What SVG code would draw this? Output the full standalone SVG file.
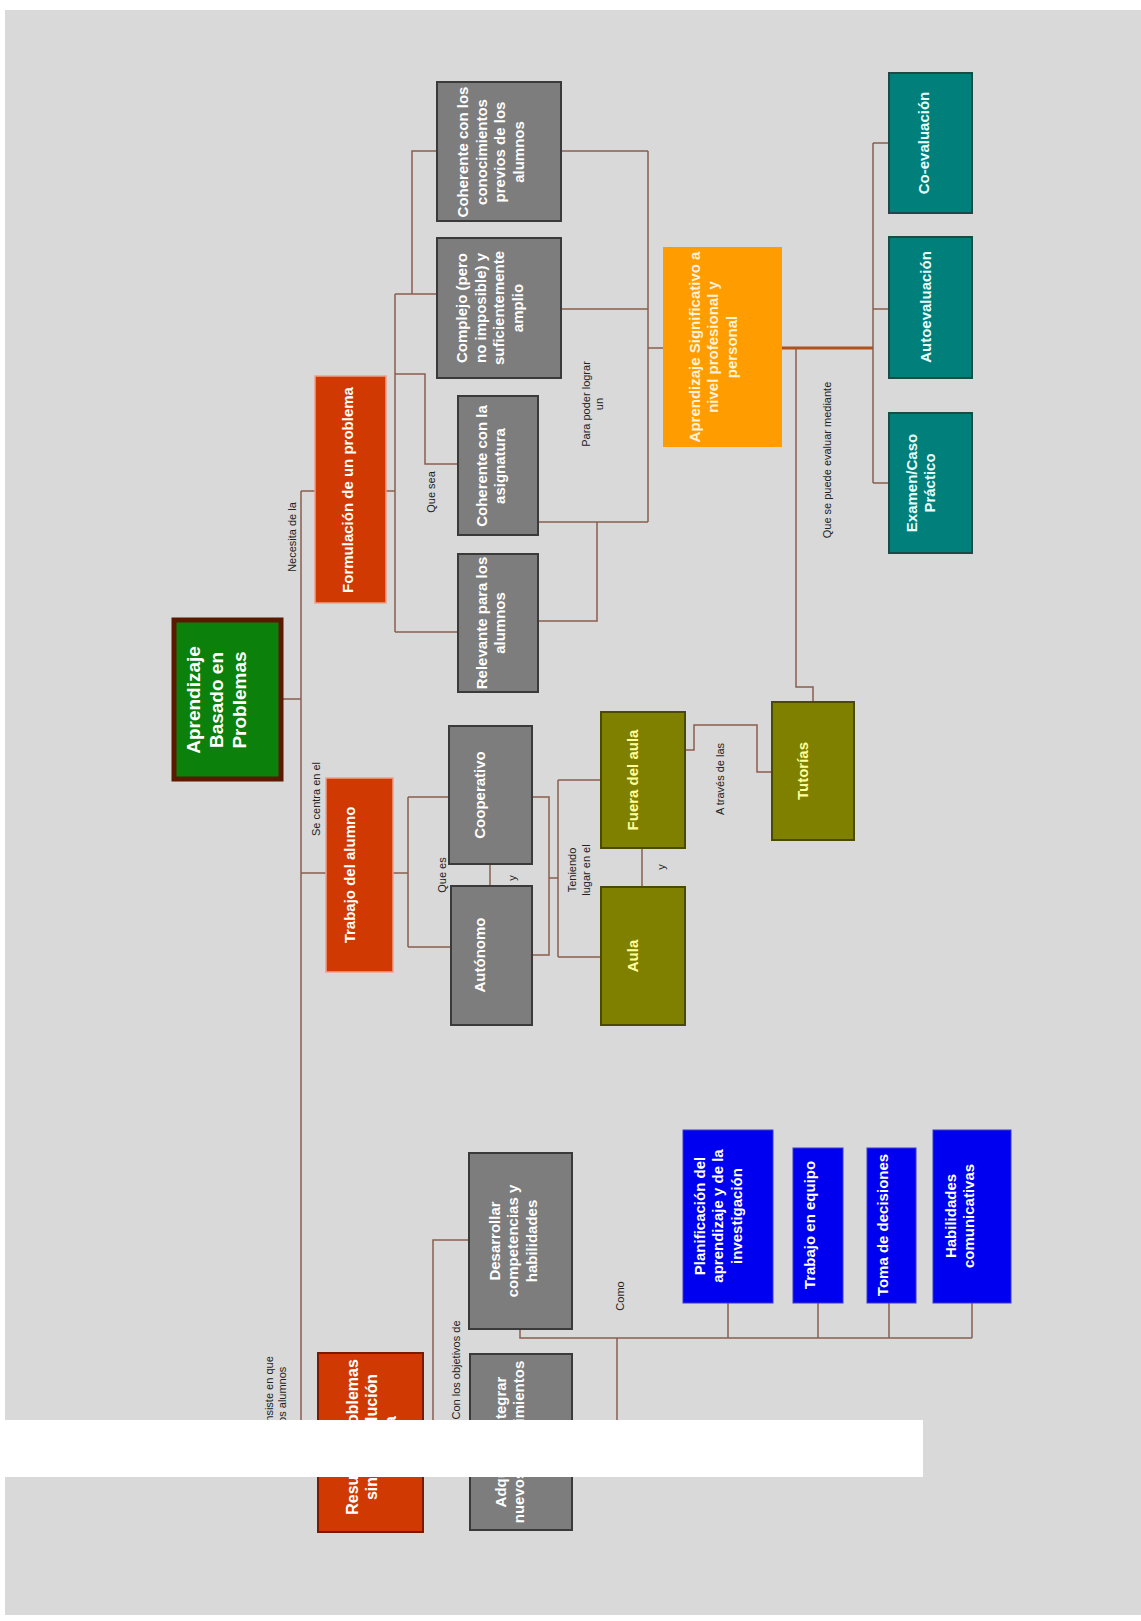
<svg xmlns="http://www.w3.org/2000/svg" width="1141" height="1621" viewBox="0 0 1141 1621">
<style>
.bx{font-family:"Liberation Sans",Arial,sans-serif;font-weight:bold;font-size:15px;text-anchor:middle}
.w{fill:#ffffff}
.y{fill:#ffff99}
.o{fill:#fff2d6}
.c{fill:#e6ffff}
.lb{font-family:"Liberation Sans",Arial,sans-serif;font-size:11px;fill:#222;text-anchor:middle}
.red{fill:#d03a02;stroke:#eea08c;stroke-width:1.5}
.gray{fill:#7d7d7d;stroke:#3a3a3a;stroke-width:2}
.teal{fill:#007f7b;stroke:#1c4a46;stroke-width:2}
.olive{fill:#808000;stroke:#4a4a00;stroke-width:2}
.blue{fill:#0000f0;stroke:#3a3ad0;stroke-width:1}
.orange{fill:#ff9c00}
#connectors path{fill:none;stroke:#8a5e4e;stroke-width:1.5}
#connectors path.thick{stroke:#b0501a;stroke-width:3}
</style>
<rect x="0" y="0" width="1141" height="1621" fill="#ffffff"/>
<rect x="5" y="10" width="1136" height="1605" fill="#d9d9d9"/>

<g id="connectors">
<path d="M283 699 H301"/>
<path d="M301 491 V1448 H318"/>
<path d="M301 491 H315"/>
<path d="M301 873 H326"/>
<path d="M386 491 H395"/>
<path d="M395 294 V632"/>
<path d="M395 294 H437"/>
<path d="M412 294 V151 H437"/>
<path d="M395 374 H425 V464 H458"/>
<path d="M395 632 H458"/>
<path d="M561 151 H648"/>
<path d="M561 309 H648"/>
<path d="M648 151 V522"/>
<path d="M538 522 H648"/>
<path d="M538 621 H597 V522"/>
<path d="M648 348 H663"/>
<path class="thick" d="M782 348 H873"/>
<path d="M873 143 V483"/>
<path d="M873 143 H889"/>
<path d="M873 309 H889"/>
<path d="M873 483 H889"/>
<path d="M796 348 V687 H813 V703"/>
<path d="M393 873 H408"/>
<path d="M408 797 V947"/>
<path d="M408 797 H449"/>
<path d="M408 947 H451"/>
<path d="M490 864 V886"/>
<path d="M532 797 H549 V955 H532"/>
<path d="M549 878 H558"/>
<path d="M558 780 V957"/>
<path d="M558 780 H601"/>
<path d="M558 957 H601"/>
<path d="M642 848 V887"/>
<path d="M685 750 H694 V725 H757 V772 H772"/>
<path d="M520 1329 V1338 H972"/>
<path d="M728 1303 V1338"/>
<path d="M818 1303 V1338"/>
<path d="M889 1303 V1338"/>
<path d="M972 1303 V1338"/>
<path d="M617 1338 V1448 H572"/>
<path d="M469 1240 H433 V1450"/>
<path d="M423 1450 H470"/>
</g>

<g id="n-main">
<rect x="174" y="620" width="107" height="159" fill="#0b800b" stroke="#5a1a00" stroke-width="5"/>
<text class="bx w" style="font-size:19px" transform="translate(217,700) rotate(-90)"><tspan x="0" y="-17.3">Aprendizaje</tspan><tspan x="0" y="5.7">Basado en</tspan><tspan x="0" y="28.7">Problemas</tspan></text>
</g>

<g id="n-formulacion">
<rect class="red" x="315" y="376" width="71" height="227"/>
<text class="bx w" transform="translate(348,490) rotate(-90)"><tspan x="0" y="5">Formulación de un problema</tspan></text>
</g>

<g id="n-trabajo">
<rect class="red" x="326" y="778" width="67" height="194"/>
<text class="bx w" transform="translate(350,875) rotate(-90)"><tspan x="0" y="5">Trabajo del alumno</tspan></text>
</g>

<g id="n-resuelve">
<rect x="318" y="1353" width="105" height="179" fill="#d03a02" stroke="#7a1a00" stroke-width="2"/>
<text class="bx w" style="font-size:16px" transform="translate(372,1437) rotate(-90)"><tspan x="0" y="-13.7">Resuelve problemas</tspan><tspan x="0" y="5.3">sin una solución</tspan><tspan x="0" y="24.3">única</tspan></text>
</g>

<g id="n-coherente-previos">
<rect class="gray" x="437" y="82" width="124" height="139"/>
<text class="bx w" transform="translate(491,152) rotate(-90)"><tspan x="0" y="-22.75">Coherente con los</tspan><tspan x="0" y="-4.25">conocimientos</tspan><tspan x="0" y="14.25">previos de los</tspan><tspan x="0" y="32.75">alumnos</tspan></text>
</g>

<g id="n-complejo">
<rect class="gray" x="437" y="238" width="124" height="140"/>
<text class="bx w" transform="translate(490,308) rotate(-90)"><tspan x="0" y="-22.75">Complejo  (pero</tspan><tspan x="0" y="-4.25">no imposible) y</tspan><tspan x="0" y="14.25">suficientemente</tspan><tspan x="0" y="32.75">amplio</tspan></text>
</g>

<g id="n-coherente-asig">
<rect class="gray" x="458" y="396" width="80" height="139"/>
<text class="bx w" transform="translate(491,466) rotate(-90)"><tspan x="0" y="-4.25">Coherente con la</tspan><tspan x="0" y="14.25">asignatura</tspan></text>
</g>

<g id="n-relevante">
<rect class="gray" x="458" y="554" width="80" height="138"/>
<text class="bx w" transform="translate(491,623) rotate(-90)"><tspan x="0" y="-4.25">Relevante para los</tspan><tspan x="0" y="14.25">alumnos</tspan></text>
</g>

<g id="n-cooperativo">
<rect class="gray" x="449" y="726" width="83" height="138"/>
<text class="bx w" transform="translate(480,795) rotate(-90)"><tspan x="0" y="5">Cooperativo</tspan></text>
</g>

<g id="n-autonomo">
<rect class="gray" x="451" y="886" width="81" height="139"/>
<text class="bx w" transform="translate(480,955) rotate(-90)"><tspan x="0" y="5">Autónomo</tspan></text>
</g>

<g id="n-fuera">
<rect class="olive" x="601" y="712" width="84" height="136"/>
<text class="bx y" transform="translate(633,780) rotate(-90)"><tspan x="0" y="5">Fuera del aula</tspan></text>
</g>

<g id="n-aula">
<rect class="olive" x="601" y="887" width="84" height="138"/>
<text class="bx y" transform="translate(633,956) rotate(-90)"><tspan x="0" y="5">Aula</tspan></text>
</g>

<g id="n-tutorias">
<rect class="olive" x="772" y="702" width="82" height="138"/>
<text class="bx y" transform="translate(803,771) rotate(-90)"><tspan x="0" y="5">Tutorías</tspan></text>
</g>

<g id="n-significativo">
<rect class="orange" x="663" y="247" width="119" height="200"/>
<text class="bx o" transform="translate(713,347) rotate(-90)"><tspan x="0" y="-13.5">Aprendizaje Significativo a</tspan><tspan x="0" y="5">nivel profesional y</tspan><tspan x="0" y="23.5">personal</tspan></text>
</g>

<g id="n-coevaluacion">
<rect class="teal" x="889" y="73" width="83" height="140"/>
<text class="bx c" transform="translate(924,143) rotate(-90)"><tspan x="0" y="5">Co-evaluación</tspan></text>
</g>

<g id="n-autoevaluacion">
<rect class="teal" x="889" y="237" width="83" height="141"/>
<text class="bx c" transform="translate(926,307) rotate(-90)"><tspan x="0" y="5">Autoevaluación</tspan></text>
</g>

<g id="n-examen">
<rect class="teal" x="889" y="413" width="83" height="140"/>
<text class="bx c" transform="translate(921,483) rotate(-90)"><tspan x="0" y="-4.25">Examen/Caso</tspan><tspan x="0" y="14.25">Práctico</tspan></text>
</g>

<g id="n-desarrollar">
<rect class="gray" x="469" y="1153" width="103" height="176"/>
<text class="bx w" transform="translate(513,1241) rotate(-90)"><tspan x="0" y="-13.5">Desarrollar</tspan><tspan x="0" y="5">competencias y</tspan><tspan x="0" y="23.5">habilidades</tspan></text>
</g>

<g id="n-integrar">
<rect class="gray" x="470" y="1354" width="102" height="176"/>
<text class="bx w" transform="translate(510,1442) rotate(-90)"><tspan x="0" y="-4.25">Adquirir e integrar</tspan><tspan x="0" y="14.25">nuevos conocimientos</tspan></text>
</g>

<g id="n-planificacion">
<rect class="blue" x="683" y="1130" width="90" height="173"/>
<text class="bx w" transform="translate(718,1216) rotate(-90)"><tspan x="0" y="-13.5">Planificación del</tspan><tspan x="0" y="5">aprendizaje y de la</tspan><tspan x="0" y="23.5">investigación</tspan></text>
</g>

<g id="n-equipo">
<rect class="blue" x="793" y="1148" width="50" height="155"/>
<text class="bx w" transform="translate(810,1225) rotate(-90)"><tspan x="0" y="5">Trabajo en equipo</tspan></text>
</g>

<g id="n-decisiones">
<rect class="blue" x="867" y="1148" width="49" height="155"/>
<text class="bx w" transform="translate(883,1225) rotate(-90)"><tspan x="0" y="5">Toma de decisiones</tspan></text>
</g>

<g id="n-habilidades">
<rect class="blue" x="933" y="1130" width="78" height="173"/>
<text class="bx w" transform="translate(960,1216) rotate(-90)"><tspan x="0" y="-4.25">Habilidades</tspan><tspan x="0" y="14.25">comunicativas</tspan></text>
</g>

<g id="labels">
<text class="lb" transform="translate(293,537) rotate(-90)"><tspan x="0" y="3.3">Necesita de la</tspan></text>
<text class="lb" transform="translate(317,799) rotate(-90)"><tspan x="0" y="3.3">Se centra en el</tspan></text>
<text class="lb" transform="translate(432,492) rotate(-90)"><tspan x="0" y="3.3">Que sea</tspan></text>
<text class="lb" transform="translate(593,404) rotate(-90)"><tspan x="0" y="-3.2">Para poder lograr</tspan><tspan x="0" y="9.8">un</tspan></text>
<text class="lb" transform="translate(828,460) rotate(-90)"><tspan x="0" y="3.3">Que se puede evaluar mediante</tspan></text>
<text class="lb" transform="translate(443,875) rotate(-90)"><tspan x="0" y="3.3">Que es</tspan></text>
<text class="lb" transform="translate(513,878) rotate(-90)"><tspan x="0" y="3.3">y</tspan></text>
<text class="lb" transform="translate(580,870) rotate(-90)"><tspan x="0" y="-3.7">Teniendo</tspan><tspan x="0" y="10.3">lugar en el</tspan></text>
<text class="lb" transform="translate(662,867) rotate(-90)"><tspan x="0" y="3.3">y</tspan></text>
<text class="lb" transform="translate(721,779) rotate(-90)"><tspan x="0" y="3.3">A través de las</tspan></text>
<text class="lb" transform="translate(457,1370) rotate(-90)"><tspan x="0" y="3.3">Con los objetivos de</tspan></text>
<text class="lb" transform="translate(621,1296) rotate(-90)"><tspan x="0" y="3.3">Como</tspan></text>
<text class="lb" transform="translate(276,1396) rotate(-90)"><tspan x="0" y="-3.2">Consiste en que</tspan><tspan x="0" y="9.8">los alumnos</tspan></text>
</g>

<rect x="0" y="1420" width="923" height="57" fill="#ffffff"/>
</svg>
